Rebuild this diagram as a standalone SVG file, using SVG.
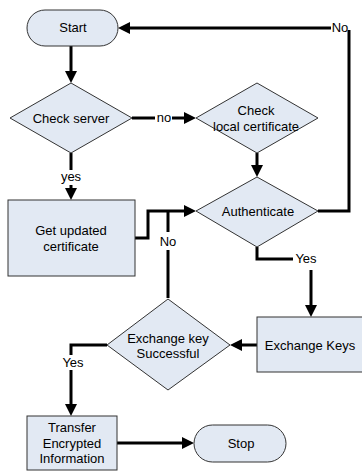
<svg xmlns="http://www.w3.org/2000/svg" width="362" height="471" viewBox="0 0 362 471">
<style>
.n{fill:#e2e9f3;stroke:#333;stroke-width:1}
.t{font-family:"Liberation Sans",Arial,sans-serif;font-size:13px;fill:#000;text-anchor:middle}
.c{fill:none;stroke:#000;stroke-width:3}
.a{fill:none;stroke:#000;stroke-width:3;marker-end:url(#ah)}
</style>
<defs>
<marker id="ah" markerUnits="userSpaceOnUse" markerWidth="12" markerHeight="12" refX="0" refY="6" orient="auto">
<path d="M0,0 L12,6 L0,12 z" fill="#000"/>
</marker>
</defs>
<rect width="362" height="471" fill="#fff"/>
<g id="connectors">
<path class="a" d="M71,46 V71"/>
<path class="c" d="M132,118 H155"/>
<path class="a" d="M172,118 H184"/>
<text class="t" x="164" y="122">no</text>
<path class="a" d="M257,153 V165"/>
<path class="c" d="M71,153 V170"/>
<text class="t" x="71" y="181">yes</text>
<path class="a" d="M71,185 V188"/>
<path class="a" d="M135,238 H148 V211 H184"/>
<path class="c" d="M318,211 H349 V30"/>
<text class="t" x="340" y="32">No</text>
<path class="a" d="M331,28 H130"/>
<path class="c" d="M257,247 V259 H293"/>
<text class="t" x="306" y="263">Yes</text>
<path class="a" d="M311,270 V305"/>
<path class="a" d="M257,345 H242"/>
<path class="c" d="M168,298 V250"/>
<text class="t" x="168" y="246">No</text>
<path class="c" d="M168,232 V211"/>
<path class="c" d="M107,345 H71 V355"/>
<text class="t" x="73" y="367">Yes</text>
<path class="a" d="M71,370 V404"/>
<path class="a" d="M117,443 H182"/>
</g>
<g id="start">
<rect class="n" x="27" y="10" width="91" height="36" rx="18"/>
<text class="t" x="73" y="32">Start</text>
</g>
<g id="check-server">
<polygon class="n" points="71,83 132,118 71,153 10,118"/>
<text class="t" x="71" y="122.5">Check server</text>
</g>
<g id="check-local">
<polygon class="n" points="257,83 318,118 257,153 196,118"/>
<text class="t" x="256" y="114.5">Check</text>
<text class="t" x="256" y="130.5">local certificate</text>
</g>
<g id="get-updated">
<rect class="n" x="8" y="200" width="127" height="76"/>
<text class="t" x="71" y="234.5">Get updated</text>
<text class="t" x="71" y="250.5">certificate</text>
</g>
<g id="authenticate">
<polygon class="n" points="257,177 318,211 257,247 196,211"/>
<text class="t" x="258" y="215.5">Authenticate</text>
</g>
<g id="exchange-keys">
<rect class="n" x="257" y="317" width="107" height="55"/>
<text class="t" x="310" y="349.5">Exchange Keys</text>
</g>
<g id="exchange-success">
<polygon class="n" points="168,299 230,345 168,390 107,345"/>
<text class="t" x="168" y="342.5">Exchange key</text>
<text class="t" x="168" y="357.5">Successful</text>
</g>
<g id="transfer">
<rect class="n" x="27" y="416" width="90" height="54"/>
<text class="t" x="72" y="431.5">Transfer</text>
<text class="t" x="72" y="447.5">Encrypted</text>
<text class="t" x="72" y="463">Information</text>
</g>
<g id="stop">
<rect class="n" x="194" y="425" width="92" height="37" rx="18.5"/>
<text class="t" x="241" y="447.5">Stop</text>
</g>
</svg>
